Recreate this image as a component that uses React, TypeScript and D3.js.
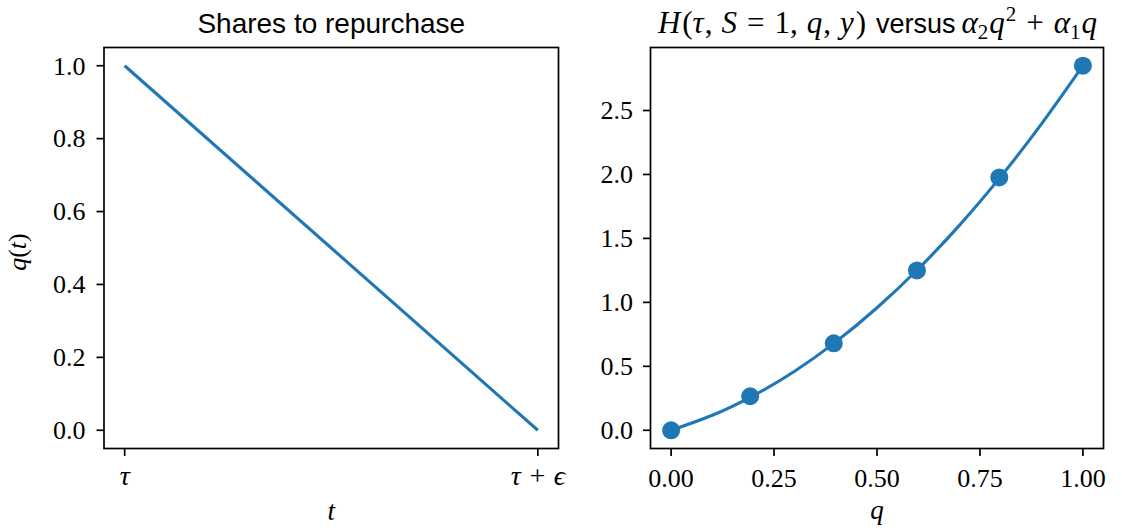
import React from "react";
import * as d3 from "d3";

const W = 1122;
const H = 532;
const BLUE = "#1f77b4";

// Left panel data: t from tau to tau+eps (0..1), q(t) linear from 1 to 0
const leftT = [0, 1];
const leftQ = [1, 0];
const leftYTicks = [0, 0.2, 0.4, 0.6, 0.8, 1.0];
const leftXTicks = [0, 1];
const leftXTickLabels = ["τ", "τ + ϵ"];

// Right panel data
const markerQ = [0, 0.192, 0.395, 0.597, 0.797, 1.0];
const markerH = [0, 0.266, 0.68, 1.25, 1.977, 2.85];
const curveQ = [0, 0.1, 0.2, 0.3, 0.4, 0.5, 0.6, 0.7, 0.8, 0.9, 1.0];
const curveH = [0, 0.117, 0.271, 0.462, 0.691, 0.958, 1.261, 1.602, 1.981, 2.397, 2.85];
const rightYTicks = [0, 0.5, 1.0, 1.5, 2.0, 2.5];
const rightXTicks = [0, 0.25, 0.5, 0.75, 1.0];

const SERIF = "'Liberation Serif', 'DejaVu Serif', serif";
const SANS = "'Liberation Sans', Arial, sans-serif";
const FS = 26;
const TICK = 7.5;

const L = { x0: 104, x1: 558.5, y0: 47.5, y1: 448.5 };
const R = { x0: 650.5, x1: 1103.5, y0: 47.5, y1: 448.5 };

export default function App() {
  const lx = d3.scaleLinear().domain([-0.05, 1.05]).range([L.x0, L.x1]);
  const ly = d3.scaleLinear().domain([-0.05, 1.05]).range([L.y1, L.y0]);
  const rx = d3.scaleLinear().domain([-0.05, 1.05]).range([R.x0, R.x1]);
  const ry = d3.scaleLinear().domain([-0.1425, 2.9925]).range([R.y1, R.y0]);

  const leftLine = d3
    .line<number>()
    .x((_, i) => lx(leftT[i]))
    .y((d) => ly(d));
  const rightCurve = d3
    .line<number>()
    .x((_, i) => rx(curveQ[i]))
    .y((d) => ry(d))
    .curve(d3.curveNatural);

  const MS = 31; // math title size
  const SUB = 21;

  return (
    <svg
      width={W}
      height={H}
      style={{ position: "absolute", left: 0, top: 0, background: "#fff" }}
    >
      <rect x={0} y={0} width={W} height={H} fill="#fff" />

      {/* ===== Left panel ===== */}
      <text
        x={(L.x0 + L.x1) / 2}
        y={33}
        textAnchor="middle"
        fontFamily={SANS}
        fontSize={28}
        fill="#000"
      >
        Shares to repurchase
      </text>
      <path d={leftLine(leftQ) || ""} fill="none" stroke={BLUE} strokeWidth={3.1} />
      {leftYTicks.map((t) => (
        <g key={"ly" + t}>
          <line x1={L.x0 - TICK} x2={L.x0} y1={ly(t)} y2={ly(t)} stroke="#000" strokeWidth={1.7} />
          <text
            x={L.x0 - TICK - 11}
            y={ly(t)}
            dy="0.34em"
            textAnchor="end"
            fontFamily={SERIF}
            fontSize={FS}
          >
            {t.toFixed(1)}
          </text>
        </g>
      ))}
      {leftXTicks.map((t, i) => (
        <g key={"lx" + t}>
          <line x1={lx(t)} x2={lx(t)} y1={L.y1} y2={L.y1 + TICK} stroke="#000" strokeWidth={1.7} />
          <text
            x={lx(t)}
            y={485}
            textAnchor="middle"
            fontFamily={SERIF}
            fontStyle="italic"
            fontSize={FS + 2}
          >
            {leftXTickLabels[i]}
          </text>
        </g>
      ))}
      <rect
        x={L.x0}
        y={L.y0}
        width={L.x1 - L.x0}
        height={L.y1 - L.y0}
        fill="none"
        stroke="#000"
        strokeWidth={1.7}
      />
      <text
        x={(L.x0 + L.x1) / 2}
        y={520}
        textAnchor="middle"
        fontFamily={SERIF}
        fontStyle="italic"
        fontSize={FS + 1}
      >
        t
      </text>
      <text
        transform={`translate(26, 252) rotate(-90)`}
        textAnchor="middle"
        fontFamily={SERIF}
        fontSize={FS}
      >
        <tspan fontStyle="italic">q</tspan>(<tspan fontStyle="italic">t</tspan>)
      </text>

      {/* ===== Right panel ===== */}
      <text
        x={877.5}
        y={33}
        textAnchor="middle"
        fontFamily={SERIF}
        fontSize={MS}
        fill="#000"
        style={{ whiteSpace: "pre" }}
      >
        <tspan fontStyle="italic">H</tspan>
        <tspan dx={2}>(</tspan>
        <tspan fontStyle="italic">τ</tspan>
        <tspan dx={1}>,</tspan>
        <tspan dx={9} fontStyle="italic">S</tspan>
        <tspan dx={10}>=</tspan>
        <tspan dx={10}>1</tspan>
        <tspan>,</tspan>
        <tspan dx={9} fontStyle="italic">q</tspan>
        <tspan dx={1}>,</tspan>
        <tspan dx={9} fontStyle="italic">y</tspan>
        <tspan dx={2}>)</tspan>
        <tspan dx={10} fontFamily={SANS} fontSize={27}>versus</tspan>
        <tspan dx={6} fontStyle="italic">α</tspan>
        <tspan fontSize={SUB} dy={6}>2</tspan>
        <tspan dx={1} dy={-6} fontStyle="italic">q</tspan>
        <tspan dx={1} fontSize={SUB} dy={-12}>2</tspan>
        <tspan dx={10} dy={12}>+</tspan>
        <tspan dx={10} fontStyle="italic">α</tspan>
        <tspan fontSize={SUB} dy={6}>1</tspan>
        <tspan dx={1} dy={-6} fontStyle="italic">q</tspan>
      </text>

      <path d={rightCurve(curveH) || ""} fill="none" stroke={BLUE} strokeWidth={3.1} />
      {markerH.map((h, i) => (
        <circle key={"m" + i} cx={rx(markerQ[i])} cy={ry(h)} r={9} fill={BLUE} />
      ))}
      {rightYTicks.map((t) => (
        <g key={"ry" + t}>
          <line x1={R.x0 - TICK} x2={R.x0} y1={ry(t)} y2={ry(t)} stroke="#000" strokeWidth={1.7} />
          <text
            x={R.x0 - TICK - 10}
            y={ry(t)}
            dy="0.34em"
            textAnchor="end"
            fontFamily={SERIF}
            fontSize={FS}
          >
            {t.toFixed(1)}
          </text>
        </g>
      ))}
      {rightXTicks.map((t) => (
        <g key={"rx" + t}>
          <line x1={rx(t)} x2={rx(t)} y1={R.y1} y2={R.y1 + TICK} stroke="#000" strokeWidth={1.7} />
          <text
            x={rx(t)}
            y={487}
            textAnchor="middle"
            fontFamily={SERIF}
            fontSize={FS}
          >
            {t.toFixed(2)}
          </text>
        </g>
      ))}
      <rect
        x={R.x0}
        y={R.y0}
        width={R.x1 - R.x0}
        height={R.y1 - R.y0}
        fill="none"
        stroke="#000"
        strokeWidth={1.7}
      />
      <text
        x={(R.x0 + R.x1) / 2}
        y={519}
        textAnchor="middle"
        fontFamily={SERIF}
        fontStyle="italic"
        fontSize={FS + 1}
      >
        q
      </text>
    </svg>
  );
}
